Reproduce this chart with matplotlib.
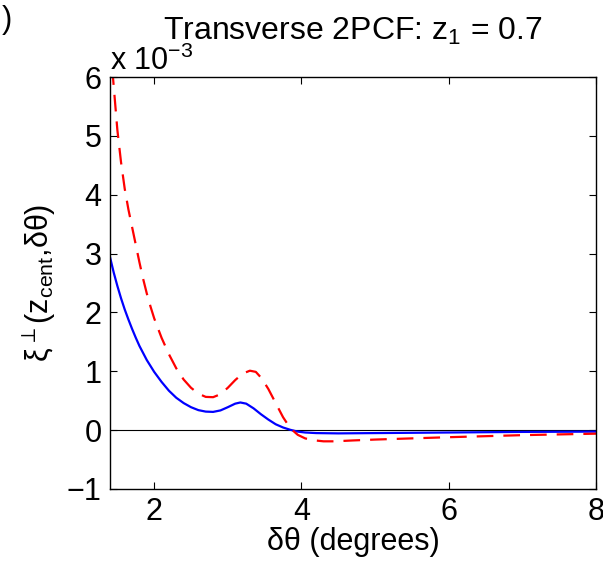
import matplotlib
matplotlib.use('Agg')
import matplotlib.pyplot as plt
import numpy as np

plt.rcParams['font.family'] = ['Liberation Sans', 'DejaVu Sans']
plt.rcParams['mathtext.fontset'] = 'custom'
plt.rcParams['mathtext.rm'] = 'Liberation Sans'
plt.rcParams['mathtext.it'] = 'Liberation Sans'

# values in units of 1e-3
theta_solid = [1.40, 1.45, 1.50, 1.55, 1.60, 1.65, 1.70, 1.75, 1.80, 1.85, 1.90, 1.95,
               2.00, 2.10, 2.20, 2.30, 2.40, 2.50, 2.60, 2.70, 2.80, 2.90, 3.00, 3.10,
               3.17, 3.25, 3.35, 3.45, 3.55, 3.65, 3.75, 3.85, 3.95, 4.05, 4.20, 4.50,
               5.00, 6.00, 7.00, 8.00]
xi_solid = [2.94, 2.68, 2.45, 2.24, 2.05, 1.88, 1.72, 1.57, 1.43, 1.31, 1.19, 1.09,
            0.99, 0.82, 0.67, 0.55, 0.46, 0.39, 0.34, 0.315, 0.31, 0.335, 0.39, 0.45,
            0.47, 0.45, 0.37, 0.27, 0.18, 0.10, 0.045, 0.005, -0.025, -0.04, -0.05, -0.055,
            -0.05, -0.04, -0.03, -0.025]

theta_dash = [1.40, 1.44, 1.50, 1.55, 1.60, 1.65, 1.70, 1.75, 1.80, 1.85, 1.90, 1.95,
              2.00, 2.10, 2.20, 2.30, 2.40, 2.50, 2.60, 2.70, 2.80, 2.90, 3.00, 3.10,
              3.20, 3.30, 3.38, 3.46, 3.55, 3.65, 3.75, 3.85, 3.95, 4.05, 4.15, 4.30,
              4.45, 4.70, 5.00, 6.00, 7.00, 8.00]
xi_dash = [6.6, 6.0, 5.1, 4.55, 4.1, 3.75, 3.45, 3.15, 2.85, 2.57, 2.32, 2.1,
           1.9, 1.57, 1.29, 1.05, 0.86, 0.72, 0.62, 0.565, 0.56, 0.61, 0.72, 0.85,
           0.96, 1.01, 0.99, 0.88, 0.70, 0.46, 0.22, 0.03, -0.08, -0.14, -0.17, -0.19,
           -0.19, -0.175, -0.16, -0.12, -0.085, -0.06]

xticks = [2, 4, 6, 8]
yticks = [-1, 0, 1, 2, 3, 4, 5, 6]

fig = plt.figure(figsize=(6.03, 5.62), dpi=100)
ax = fig.add_axes([110/603, 1 - 489/562, 486/603, 412/562])

ax.axhline(0, color='black', lw=0.8)
ax.plot(theta_solid, xi_solid, color='#0000ff', lw=1.6)
ax.plot(theta_dash, xi_dash, color='#ff0000', lw=1.6, dashes=(7.5, 4.5))

ax.set_xlim(1.4, 8)
ax.set_ylim(-1, 6)
ax.set_xticks(xticks)
ax.set_yticks(yticks)
ax.set_yticklabels(['\u22121' if v == -1 else str(v) for v in yticks])
ax.tick_params(direction='in', length=5, width=0.8, top=True, right=True,
               labelsize=22, pad=6)
for s in ax.spines.values():
    s.set_linewidth(1.0)

ax.set_title('Transverse 2PCF: z$_1$ = 0.7', fontsize=23, pad=27)
ax.set_xlabel('\u03b4\u03b8 (degrees)', fontsize=22, labelpad=0)
ax.set_ylabel('$\\xi^{\\perp}$(z$_{\\rm cent}$,\u03b4\u03b8)', fontsize=22, labelpad=6)

ax.text(0.0, 1.0, 'x 10$^{\\mathregular{\u22123}}$', transform=ax.transAxes,
        fontsize=22, ha='left', va='bottom')
fig.text(0.003, 0.965, ')', fontsize=22, ha='left', va='center')

fig.savefig('out.png', dpi=100)
